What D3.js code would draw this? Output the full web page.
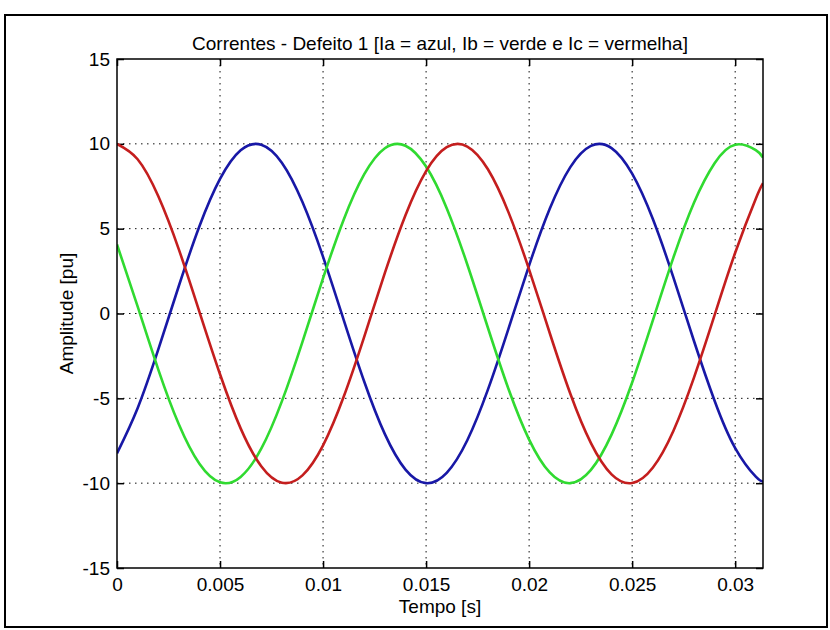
<!DOCTYPE html>
<html>
<head>
	<meta charset="utf-8">
	<title>Correntes - Defeito 1</title>
	<script src="https://d3js.org/d3.v7.min.js"></script>
	<style type="text/css">
		*
		{
			margin:0;
			padding:0;
		}
		body
		{
			background:#fff;
			font-family: "Liberation Sans", Arial, sans-serif;
		}
		.tick text
		{
			font-size:19px;
			fill:#000;
		}
	</style>
</head>
<body>
	<div id="chart"></div>
	<script type="text/javascript">
		// tempo em ms
		const tempoMs = [0,1,2,3,4,5,6,7,8,9,10,11,12,13,14,15,16,17,18,19,20,21,22,23,24,25,26,27,28,29,30,31,31.35];

		const ia = [-8.24,-5.58,-2.13,1.62,5.14,7.93,9.62,9.95,8.89,6.57,3.34,-0.37,-4.02,-7.11,-9.20,-10.00,-9.39,-7.47,-4.49,-0.89,2.84,6.17,8.63,9.88,9.75,8.24,5.58,2.13,-1.62,-5.14,-7.93,-9.62,-9.89];
		const ib = [4.07,0.42,-3.29,-6.53,-8.86,-9.95,-9.63,-7.97,-5.18,-1.67,2.08,5.53,8.21,9.74,9.89,8.66,6.21,2.89,-0.84,-4.45,-7.43,-9.37,-10.00,-9.22,-7.14,-4.07,-0.42,3.29,6.53,8.86,9.95,9.63,9.19];
		const ic = [9.99,9.09,6.92,3.78,0.10,-3.58,-6.77,-9.00,-9.97,-9.54,-7.77,-4.91,-1.36,2.39,5.79,8.39,9.80,9.84,8.50,5.96,2.59,-1.15,-4.73,-7.64,-9.48,-9.99,-9.09,-6.92,-3.78,-0.10,3.58,6.77,7.68];

		const xTicks = [0, 0.005, 0.01, 0.015, 0.02, 0.025, 0.03];
		const yTicks = [-15, -10, -5, 0, 5, 10, 15];

		const series = [
			{name: "Ia", values: ia, color: "#1818a6"},
			{name: "Ib", values: ib, color: "#30da30"},
			{name: "Ic", values: ic, color: "#c41e1e"}
		];

		const width = 830;
		const height = 630;
		const pLeft = 117, pRight = 763, pTop = 59, pBottom = 568;

		const svg = d3.select("#chart").append("svg").attr("width", width).attr("height", height);

		// moldura da figura
		svg.append("rect")
			.attr("x", 5).attr("y", 15)
			.attr("width", 822).attr("height", 612)
			.style("fill", "#fff")
			.style("stroke", "#000")
			.style("stroke-width", 2);

		const xScale = d3.scaleLinear().domain([0, 0.03135]).range([pLeft, pRight]);
		const yScale = d3.scaleLinear().domain([-15, 15]).range([pBottom, pTop]);

		// grade pontilhada
		svg.append("g")
			.selectAll("line")
			.data(xTicks.slice(1))
			.enter()
			.append("line")
			.attr("x1", d => xScale(d)).attr("x2", d => xScale(d))
			.attr("y1", pTop).attr("y2", pBottom)
			.style("stroke", "#111")
			.style("stroke-dasharray", "1.5,4.5");

		svg.append("g")
			.selectAll("line")
			.data(yTicks.slice(1, -1))
			.enter()
			.append("line")
			.attr("x1", pLeft).attr("x2", pRight)
			.attr("y1", d => yScale(d)).attr("y2", d => yScale(d))
			.style("stroke", "#111")
			.style("stroke-dasharray", "1.5,4.5");

		// eixos (rotulos com hifen, como no original)
		const xAxis = d3.axisBottom(xScale).tickValues(xTicks).tickFormat(d => String(d)).tickSize(-7).tickPadding(10);
		const yAxis = d3.axisLeft(yScale).tickValues(yTicks).tickFormat(d => String(d)).tickSize(-7).tickPadding(7);
		const xTop = d3.axisTop(xScale).tickValues(xTicks).tickFormat("").tickSize(-7);
		const yRight = d3.axisRight(yScale).tickValues(yTicks).tickFormat("").tickSize(-7);

		[
			svg.append("g").attr("transform", "translate(0," + pBottom + ")").call(xAxis),
			svg.append("g").attr("transform", "translate(" + pLeft + ",0)").call(yAxis),
			svg.append("g").attr("transform", "translate(0," + pTop + ")").call(xTop),
			svg.append("g").attr("transform", "translate(" + pRight + ",0)").call(yRight)
		].forEach(g => {
			g.select(".domain").remove();
			g.selectAll(".tick line").style("stroke", "#000").style("stroke-width", 1.5);
			g.selectAll("text").style("font-family", "'Liberation Sans', Arial, sans-serif");
		});

		// curvas
		const line = d3.line()
			.x((d, i) => xScale(tempoMs[i] / 1000))
			.y(d => yScale(d))
			.curve(d3.curveNatural);

		svg.append("defs").append("clipPath").attr("id", "area")
			.append("rect").attr("x", pLeft).attr("y", pTop).attr("width", pRight - pLeft).attr("height", pBottom - pTop);

		svg.append("g")
			.attr("clip-path", "url(#area)")
			.selectAll("path")
			.data(series)
			.enter()
			.append("path")
			.attr("d", d => line(d.values))
			.style("fill", "none")
			.style("stroke", d => d.color)
			.style("stroke-width", 2.6);

		svg.append("rect")
			.attr("x", pLeft).attr("y", pTop)
			.attr("width", pRight - pLeft).attr("height", pBottom - pTop)
			.style("fill", "none")
			.style("stroke", "#000")
			.style("stroke-width", 1.5);

		// textos
		svg.append("text")
			.attr("x", (pLeft + pRight) / 2)
			.attr("y", 50)
			.attr("text-anchor", "middle")
			.style("font-size", "19px")
			.text("Correntes - Defeito 1 [Ia = azul, Ib = verde e Ic = vermelha]");

		svg.append("text")
			.attr("x", (pLeft + pRight) / 2)
			.attr("y", 613)
			.attr("text-anchor", "middle")
			.style("font-size", "19px")
			.text("Tempo [s]");

		svg.append("text")
			.attr("transform", "translate(73," + (pTop + pBottom) / 2 + ") rotate(-90)")
			.attr("text-anchor", "middle")
			.style("font-size", "19px")
			.text("Amplitude [pu]");
	</script>
</body>
</html>
